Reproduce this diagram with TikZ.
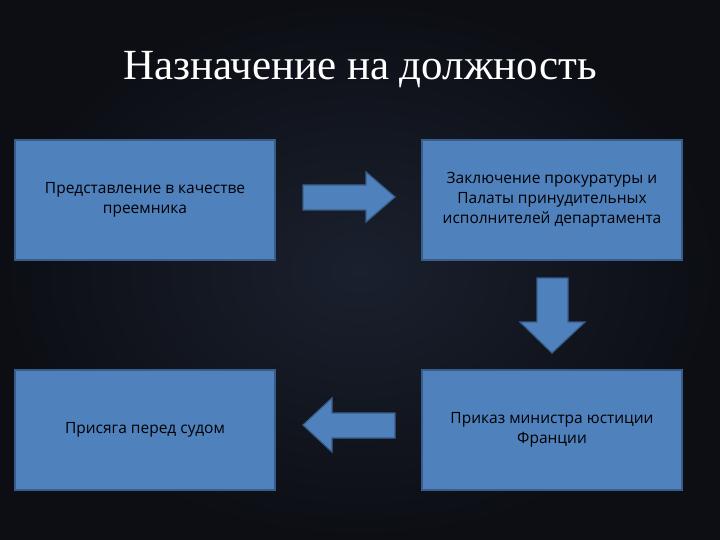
\documentclass[tikz,border=0pt]{standalone}
\usepackage{fontspec}
\setmainfont{Liberation Serif}
\newfontfamily\boxfont{Open Sans}
\definecolor{bfill}{RGB}{79,129,189}
\definecolor{bline}{RGB}{56,93,138}
\definecolor{bgc}{RGB}{12,14,20}
\definecolor{bgin}{RGB}{26,32,46}
\begin{document}
\begin{tikzpicture}[x=1pt,y=-1pt,
  box/.style={draw=bline,line width=1.2pt,fill=bfill,minimum width=260pt,minimum height=120pt,align=center,font=\boxfont\fontsize{15.5}{20}\selectfont,text=black,inner sep=4pt},
  arr/.style={draw=bline,line width=1.2pt,fill=bfill}]
\useasboundingbox (0,0) rectangle (720,540);
\fill[bgc] (0,0) rectangle (720,540);
\shade[inner color=bgin,outer color=bgc] (0,0) rectangle (720,540);
\node[text=white,font=\fontsize{43}{46}\selectfont] (title) at (360,70) {Назначение на должность};
\node[box] (a) at (145,200) {Представление в качестве\\преемника};
\node[box] (b) at (552,200) {Заключение прокуратуры и\\Палаты принудительных\\исполнителей департамента};
\node[box] (c) at (552,430) {Приказ министра юстиции\\Франции};
\node[box] (d) at (145,430) {Присяга перед судом};
\draw[arr] (303,185) -- (366,185) -- (366,172) -- (395,197) -- (366,222) -- (366,210) -- (303,210) -- cycle;
\draw[arr] (537,278) -- (568,278) -- (568,322) -- (585,322) -- (552,353) -- (520,322) -- (537,322) -- cycle;
\draw[arr] (395,413) -- (332,413) -- (332,398) -- (303,425) -- (332,452) -- (332,438) -- (395,438) -- cycle;
\end{tikzpicture}
\end{document}
